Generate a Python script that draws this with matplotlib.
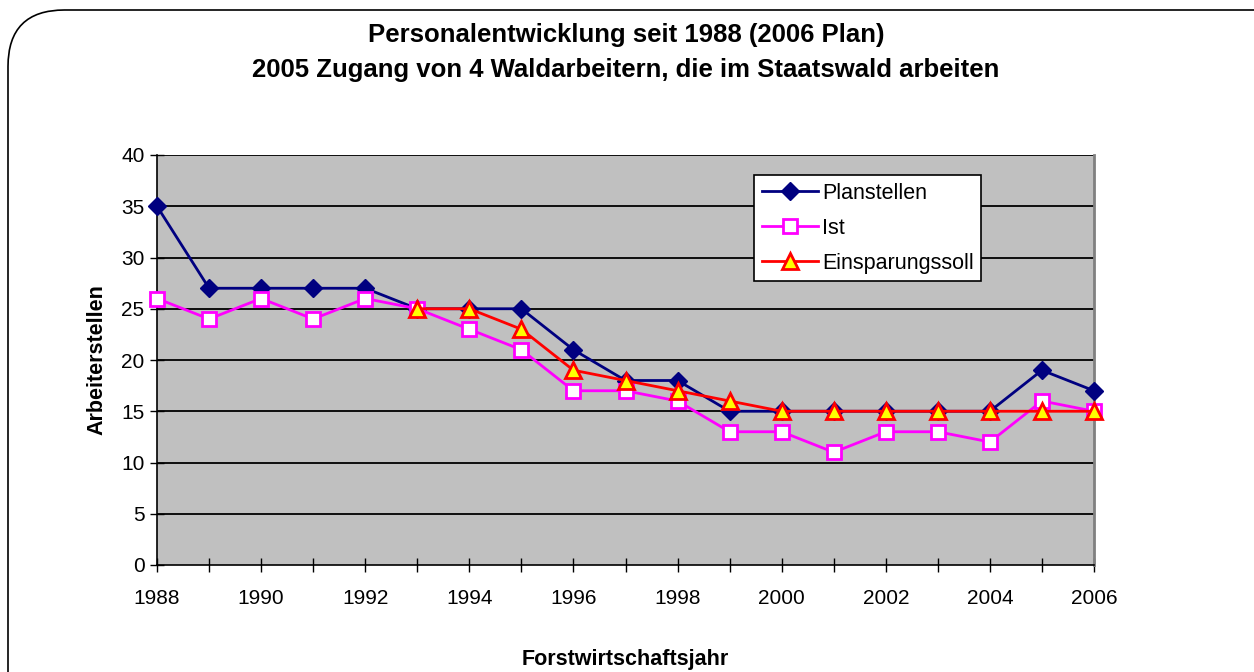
import numpy as np
import matplotlib.pyplot as plt
from matplotlib.patches import FancyBboxPatch

plt.rcParams["font.family"] = ["Liberation Sans", "DejaVu Sans"]

years = list(range(1988, 2007))
planstellen = [35, 27, 27, 27, 27, 25, 25, 25, 21, 18, 18, 15, 15, 15, 15, 15, 15, 19, 17]
ist = [26, 24, 26, 24, 26, 25, 23, 21, 17, 17, 16, 13, 13, 11, 13, 13, 12, 16, 15]
soll_years = list(range(1993, 2007))
soll = [25, 25, 23, 19, 18, 17, 16, 15, 15, 15, 15, 15, 15, 15]

fig = plt.figure(figsize=(12.54, 6.72), dpi=100)
ax = fig.add_axes([157/1254, 1-565/672, 937/1254, 410/672])
ax.set_facecolor("#c0c0c0")

# rounded frame around the chart
frame = FancyBboxPatch((8/1254, -0.1), 1.1, (672-10)/672 + 0.1,
                       boxstyle="round,pad=0,rounding_size=0.045",
                       transform=fig.transFigure, facecolor="none",
                       edgecolor="black", lw=1.2, clip_on=False,
                       mutation_aspect=1254/672)
fig.patches.append(frame)

for y in range(5, 41, 5):
    ax.axhline(y, color="black", lw=1.3, zorder=1)

ax.plot(years, planstellen, color="#000080", lw=2, marker="D", ms=9,
        mfc="#000080", mec="#000080", label="Planstellen", zorder=3, clip_on=False)
ax.plot(years, ist, color="#ff00ff", lw=2, marker="s", ms=10,
        mfc="white", mec="#ff00ff", mew=2, label="Ist", zorder=4, clip_on=False)
ax.plot(soll_years, soll, color="#ff0000", lw=2, marker="^", ms=11,
        mfc="#ffff00", mec="#ff0000", mew=2, label="Einsparungssoll", zorder=5, clip_on=False)

ax.set_xlim(1988, 2006)
ax.set_ylim(0, 40)
ax.set_yticks(range(0, 41, 5))
ax.set_xticks(range(1988, 2007, 2))
ax.set_xticks(years, minor=True)
ax.tick_params(axis="both", which="both", direction="inout", length=10, width=1, labelsize=15)
ax.tick_params(axis="x", which="both", pad=12)
ax.tick_params(axis="y", pad=4)

ax.spines["top"].set_visible(False)
ax.spines["right"].set_color("#808080")
ax.spines["right"].set_linewidth(2)
ax.spines["left"].set_linewidth(1.2)
ax.spines["bottom"].set_linewidth(1.2)

ax.set_ylabel("Arbeiterstellen", fontsize=15.5, fontweight="bold", labelpad=10)
fig.text((157+1094)/2/1254, 1-660/672, "Forstwirtschaftsjahr", ha="center", va="center",
         fontsize=15.5, fontweight="bold")
fig.text(626/1254, 1-35/672, "Personalentwicklung seit 1988 (2006 Plan)",
         ha="center", va="center", fontsize=18.5, fontweight="bold")
fig.text(626/1254, 1-70/672, "2005 Zugang von 4 Waldarbeitern, die im Staatswald arbeiten",
         ha="center", va="center", fontsize=18.5, fontweight="bold")

leg = ax.legend(loc="upper left", bbox_to_anchor=((754-157)/937, (565-175)/410),
                fontsize=15.5, frameon=True, fancybox=False, edgecolor="black",
                framealpha=1, handlelength=2.6, handletextpad=0.2, borderpad=0.35,
                labelspacing=0.65, borderaxespad=0)
leg.get_frame().set_linewidth(1.2)

fig.savefig("out.png", dpi=100)
